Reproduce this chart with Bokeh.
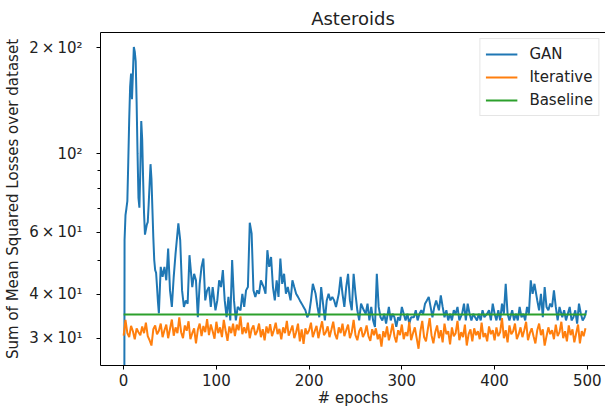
from bokeh.plotting import figure
from bokeh.models import Range1d, FixedTicker, LinearAxis
from bokeh.embed import file_html
from bokeh.resources import INLINE

# ---------------- data ----------------
gan_epochs = [
    0, 1, 2, 3, 4, 5, 6, 7, 8, 9,
    10, 11, 12, 13, 14, 15, 16, 17, 18, 19,
    20, 21, 22, 23, 24, 25, 26, 27, 28, 29,
    30, 31, 32, 33, 34, 35, 36, 37, 38, 40,
    42, 44, 46, 48, 50, 52, 54, 56, 59, 61,
    63, 65, 67, 69, 71, 74, 76, 78, 80, 82,
    84, 86, 88, 90, 92, 94, 96, 99, 101, 103,
    105, 107, 109, 111, 113, 115, 117, 119, 121, 123,
    126, 128, 130, 132, 134, 136, 138, 140, 142, 144,
    146, 148, 151, 153, 155, 157, 159, 161, 163, 165,
    167, 169, 171, 173, 175, 177, 180, 182, 184, 186,
    188, 190, 192, 194, 196, 198, 200, 202, 204, 207,
    209, 211, 213, 215, 217, 219, 221, 223, 225, 227,
    229, 232, 234, 236, 238, 240, 242, 244, 246, 248,
    250, 252, 254, 256, 259, 261, 263, 265, 267, 269,
    271, 273, 275, 277, 279, 281, 283, 286, 288, 290,
    292, 294, 296, 298, 300, 302, 304, 306, 308, 310,
    313, 315, 317, 319, 321, 323, 325, 327, 329, 331,
    333, 335, 337, 340, 342, 344, 346, 348, 350, 352,
    354, 356, 358, 360, 362, 365, 367, 369, 371, 373,
    375, 377, 379, 381, 383, 385, 387, 389, 392, 394,
    396, 398, 400, 402, 404, 406, 408, 410, 412, 414,
    416, 419, 421, 423, 425, 427, 429, 431, 433, 435,
    437, 439, 441, 443, 446, 448, 450, 452, 454, 456,
    458, 460, 462, 464, 466, 468, 470, 473, 475, 477,
    479, 481, 483, 485, 487, 489, 491, 493, 495, 497,
    499,
]
# first value lies far below the visible axis
gan_loss = [
    1.0, 57, 67, 70, 73.5, 95, 125, 155, 169, 143,
    169, 201, 195, 183, 140, 100, 75, 70.4, 90, 124,
    110, 85, 68, 59, 61, 63, 64, 72, 82, 93.5,
    85, 70, 58, 50, 46.8, 46, 42, 38, 35.3, 47.8,
    44.8, 47.8, 43.8, 53.9, 41.0, 36.8, 44.8, 52.2, 63.5, 56.9,
    41.0, 36.8, 38.4, 37.6, 51.6, 41.9, 45.7, 43.8, 34.4, 42.8,
    47.8, 50.5, 38.4, 41.0, 41.9, 36.8, 41.9, 36.0, 38.4, 43.8,
    41.9, 46.8, 38.4, 34.4, 39.3, 33.7, 50.0, 38.4, 33.7, 36.8,
    36.0, 40.1, 36.8, 41.0, 41.9, 63.8, 59.5, 41.0, 39.3, 41.0,
    40.1, 43.8, 41.9, 40.1, 53.3, 47.8, 51.0, 41.9, 38.4, 43.8,
    39.3, 50.5, 42.8, 45.7, 40.1, 41.9, 38.4, 43.8, 41.9, 40.1,
    39.3, 38.4, 37.6, 36.8, 36.0, 34.4, 35.2, 38.4, 42.8, 40.1,
    36.8, 34.4, 41.9, 37.6, 33.7, 38.4, 40.1, 38.4, 39.3, 38.4,
    36.8, 40.1, 44.8, 40.1, 36.8, 41.9, 45.7, 38.4, 36.0, 45.7,
    40.1, 36.0, 33.7, 37.6, 36.0, 35.2, 37.6, 33.7, 36.8, 33.7,
    32.3, 45.7, 36.8, 34.4, 33.7, 35.2, 33.0, 36.8, 33.7, 35.2,
    34.4, 32.3, 34.4, 33.7, 36.8, 35.2, 33.7, 35.2, 33.0, 34.4,
    34.4, 36.0, 33.7, 35.2, 36.0, 35.2, 37.6, 38.4, 39.3, 36.8,
    34.4, 36.8, 38.4, 36.0, 39.7, 36.8, 34.4, 36.0, 33.7, 35.2,
    33.7, 36.0, 35.2, 36.8, 33.7, 35.2, 37.6, 33.7, 37.6, 35.2,
    33.7, 35.2, 34.4, 33.7, 35.2, 33.7, 36.0, 34.4, 35.2, 36.0,
    33.7, 37.6, 35.2, 33.7, 36.0, 33.7, 37.6, 35.2, 42.8, 35.2,
    33.7, 36.0, 33.7, 35.2, 33.7, 36.8, 34.4, 35.2, 33.7, 36.8,
    35.2, 43.8, 40.1, 42.8, 38.4, 36.0, 40.1, 34.4, 41.9, 36.8,
    36.0, 37.6, 36.8, 41.0, 36.8, 33.7, 36.8, 34.4, 36.0, 33.7,
    35.2, 36.8, 33.7, 34.4, 36.0, 33.0, 37.6, 35.2, 33.7, 34.4,
    36.0,
]

iter_epochs = list(range(0, 500, 2))
iter_loss = [
    30.5, 33.8, 31.0, 30.2, 32.5, 31.4, 29.8, 32.0, 31.2, 30.6,
    32.4, 31.0, 33.2, 30.4, 29.6, 28.6, 31.8, 32.6, 30.8, 31.5,
    33.0, 30.2, 31.6, 32.8, 30.0, 31.9, 33.9, 30.5, 32.2, 31.0,
    34.4, 31.2, 30.0, 32.6, 31.5, 33.5, 29.8, 31.0, 32.0, 29.0,
    31.7, 33.0, 30.4, 32.5, 31.2, 34.0, 30.6, 32.8, 31.4, 29.9,
    33.4, 31.0, 32.2, 30.2, 33.8, 31.5, 29.5, 32.4, 31.0, 33.0,
    30.4, 32.8, 31.6, 34.6, 30.8, 32.2, 31.0, 33.2, 30.0, 31.8,
    32.6, 30.6, 31.4, 33.0, 30.2, 31.8, 29.6, 32.4, 31.0, 32.9,
    30.4, 31.6, 33.2, 30.8, 31.9, 29.8, 32.2, 31.0, 33.6, 30.5,
    31.5, 32.6, 30.0, 31.2, 33.0, 29.4, 31.8, 28.9, 32.0, 30.8,
    31.6, 33.2, 30.2, 31.4, 32.5, 30.0, 31.8, 33.5, 30.6, 31.2,
    32.4, 30.2, 31.7, 33.4, 30.8, 29.8, 32.2, 31.0, 33.0, 30.4,
    31.6, 32.8, 30.0, 31.2, 33.8, 30.6, 29.6, 31.4, 32.2, 30.2,
    31.0, 32.6, 30.4, 29.5, 31.8, 30.6, 32.0, 29.8, 30.8, 28.4,
    31.4, 30.2, 32.4, 29.6, 31.0, 33.0, 30.4, 29.2, 31.6, 30.6,
    32.8, 29.8, 31.2, 30.4, 33.4, 29.6, 31.0, 32.2, 30.0, 28.0,
    31.4, 33.6, 30.2, 29.4, 31.8, 34.2, 30.6, 29.0, 31.2, 32.6,
    30.0, 31.6, 29.2, 33.0, 30.8, 31.4, 28.8, 32.2, 30.4, 31.0,
    33.6, 29.6, 31.2, 30.2, 32.8, 28.6, 30.8, 31.8, 29.4, 32.0,
    30.6, 31.4, 29.8, 33.2, 30.2, 31.0, 29.4, 32.4, 30.8, 31.6,
    29.6, 32.2, 30.4, 31.2, 34.2, 30.0, 31.6, 29.2, 32.6, 30.8,
    31.4, 33.0, 29.8, 30.8, 32.2, 30.2, 31.6, 33.4, 29.6, 31.0,
    32.0, 30.4, 29.0, 31.6, 33.0, 30.6, 31.8, 28.6, 30.4, 32.2,
    30.8, 31.6, 29.8, 32.8, 30.4, 31.2, 33.4, 30.0, 31.4, 29.4,
    32.6, 30.6, 31.8, 29.2, 31.0, 32.8, 29.0, 31.4, 30.4, 32.0,
]

baseline_epochs = [0, 499]
baseline_loss = [35.0, 35.0]

x_ticks = [0, 100, 200, 300, 400, 500]
y_ticks = [30, 40, 60, 100, 200]
y_tick_labels = ["3\u2009×\u200910¹", "4\u2009×\u200910¹", "6\u2009×\u200910¹",
                 "10²", "2\u2009×\u200910²"]
y_minor_ticks = [50, 70, 80, 90]

assert len(gan_epochs) == len(gan_loss)
assert len(iter_epochs) == len(iter_loss)

FONT = "DejaVu Sans"
TXT = "#222222"

p = figure(
    width=605, height=410,
    y_axis_type="log",
    x_range=Range1d(-24.95, 519.6),
    y_range=Range1d(25.1, 221.0),
    output_backend="svg", toolbar_location=None,
    min_border_left=100, min_border_right=0,
    min_border_top=32, min_border_bottom=45,
    title="Asteroids",
)

p.line(gan_epochs, gan_loss, color="#1f77b4", line_width=2, legend_label="GAN")
p.line(iter_epochs, iter_loss, color="#ff7f0e", line_width=2, legend_label="Iterative")
p.line(baseline_epochs, baseline_loss, color="#2ca02c", line_width=2, legend_label="Baseline")

# title
p.title.text_font = FONT
p.title.text_font_size = "18px"
p.title.text_font_style = "normal"
p.title.text_color = TXT
p.title.align = "center"
p.title.standoff = 8

# frame / grid (no outline: the right spine is outside the picture)
p.xgrid.visible = False
p.ygrid.visible = False
p.outline_line_color = None
p.background_fill_color = "white"
p.border_fill_color = "white"

# bottom and left axes (grab them before adding the top spine axis)
xa = p.below[0]
ya = p.left[0]

# top spine drawn by an empty axis above
top = LinearAxis(ticker=FixedTicker(ticks=[]), axis_line_color="black",
                 major_tick_out=0, major_tick_in=0, minor_tick_out=0, minor_tick_in=0,
                 major_label_standoff=0, major_label_text_font_size="1px")
p.add_layout(top, "above")

# x axis
xa.ticker = FixedTicker(ticks=x_ticks)
xa.axis_label = "# epochs"
xa.minor_tick_out = 0
xa.minor_tick_in = 0
xa.major_label_standoff = 4
xa.axis_label_standoff = 0

# y axis
ya.ticker = FixedTicker(ticks=y_ticks, minor_ticks=y_minor_ticks)
ya.major_label_overrides = {t: l for t, l in zip(y_ticks, y_tick_labels)}
ya.axis_label = "Sum of Mean Squared Losses over dataset"
ya.minor_tick_out = 3
ya.minor_tick_in = 0
ya.major_label_standoff = 14
ya.axis_label_standoff = 4

for ax in (xa, ya):
    ax.axis_line_color = "black"
    ax.major_tick_line_color = "black"
    ax.minor_tick_line_color = "black"
    ax.major_tick_out = 4
    ax.major_tick_in = 0
    ax.major_label_text_font = FONT
    ax.major_label_text_font_size = "15px"
    ax.major_label_text_color = TXT
    ax.axis_label_text_font = FONT
    ax.axis_label_text_font_size = "15px"
    ax.axis_label_text_font_style = "normal"
    ax.axis_label_text_color = TXT

# legend
lg = p.legend[0]
lg.location = "top_right"
lg.margin = 6
lg.padding = 5
lg.spacing = 3
lg.label_height = 20
lg.glyph_height = 20
lg.glyph_width = 32
lg.label_standoff = 12
lg.label_text_font = FONT
lg.label_text_font_size = "15px"
lg.label_text_color = TXT
lg.border_line_color = "#cccccc"
lg.border_line_width = 1
lg.background_fill_alpha = 0.8

open("out.html", "w").write(file_html(p, INLINE))
